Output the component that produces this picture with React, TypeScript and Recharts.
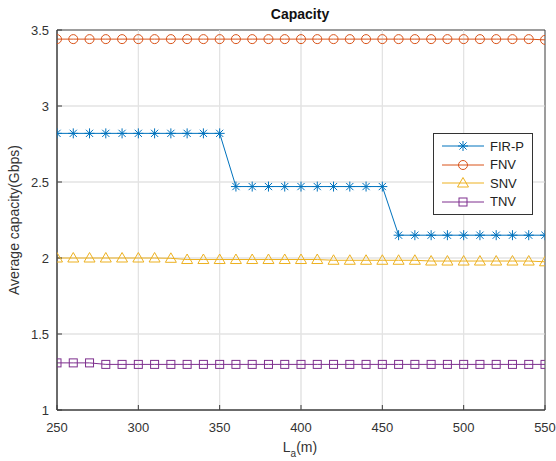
import { LineChart, Line, XAxis, YAxis, CartesianGrid, Legend, ReferenceArea, ReferenceLine } from 'recharts';

const lengths = [250, 260, 270, 280, 290, 300, 310, 320, 330, 340, 350, 360, 370, 380, 390, 400, 410, 420, 430, 440, 450, 460, 470, 480, 490, 500, 510, 520, 530, 540, 550];
const firP = [2.82, 2.82, 2.82, 2.82, 2.82, 2.82, 2.82, 2.82, 2.82, 2.82, 2.82, 2.47, 2.47, 2.47, 2.47, 2.47, 2.47, 2.47, 2.47, 2.47, 2.47, 2.15, 2.15, 2.15, 2.15, 2.15, 2.15, 2.15, 2.15, 2.15, 2.15];
const fnv = [3.44, 3.44, 3.44, 3.44, 3.44, 3.44, 3.44, 3.44, 3.44, 3.44, 3.44, 3.44, 3.44, 3.44, 3.44, 3.44, 3.44, 3.44, 3.44, 3.44, 3.44, 3.44, 3.44, 3.44, 3.44, 3.44, 3.44, 3.44, 3.44, 3.44, 3.435];
const snv = [2.0, 2.0, 2.0, 2.0, 2.0, 2.0, 2.0, 1.998, 1.99, 1.99, 1.99, 1.99, 1.99, 1.99, 1.99, 1.99, 1.99, 1.985, 1.985, 1.985, 1.985, 1.985, 1.985, 1.98, 1.98, 1.98, 1.98, 1.98, 1.98, 1.98, 1.975];
const tnv = [1.31, 1.31, 1.31, 1.30, 1.30, 1.30, 1.30, 1.30, 1.30, 1.30, 1.30, 1.30, 1.30, 1.30, 1.30, 1.30, 1.30, 1.30, 1.30, 1.30, 1.30, 1.30, 1.30, 1.30, 1.30, 1.30, 1.30, 1.30, 1.30, 1.30, 1.30];
const xTicks = [250, 300, 350, 400, 450, 500, 550];
const yTicks = [1, 1.5, 2, 2.5, 3, 3.5];
const xGrid = [300, 350, 400, 450, 500];
const yGrid = [1.5, 2, 2.5, 3];

const data = lengths.map((x, i) => ({ x, firP: firP[i], fnv: fnv[i], snv: snv[i], tnv: tnv[i] }));

const series = [
    { key: 'firP', name: 'FIR-P', color: '#0072BD', marker: 'star' },
    { key: 'fnv', name: 'FNV', color: '#D95319', marker: 'circle' },
    { key: 'snv', name: 'SNV', color: '#EDB120', marker: 'triangle' },
    { key: 'tnv', name: 'TNV', color: '#7E2F8E', marker: 'square' },
];

const font = '"Liberation Sans", Arial, sans-serif';
const axisColor = '#3a3a3a';
const gridColor = '#e3e3e3';

function Marker({ cx, cy, type, color }: { cx: number; cy: number; type: string; color: string }) {
    if (type === 'star') {
        const r = 5;
        const d = 3.6;
        return (
            <g stroke={color} strokeWidth={1}>
                <line x1={cx - r} y1={cy} x2={cx + r} y2={cy} />
                <line x1={cx} y1={cy - r} x2={cx} y2={cy + r} />
                <line x1={cx - d} y1={cy - d} x2={cx + d} y2={cy + d} />
                <line x1={cx - d} y1={cy + d} x2={cx + d} y2={cy - d} />
            </g>
        );
    }
    if (type === 'circle') return <circle cx={cx} cy={cy} r={4.5} fill="none" stroke={color} strokeWidth={1} />;
    if (type === 'triangle')
        return <polygon points={`${cx},${cy - 5.5} ${cx + 5.5},${cy + 4} ${cx - 5.5},${cy + 4}`} fill="none" stroke={color} strokeWidth={1} />;
    return <rect x={cx - 4} y={cy - 4} width={8} height={8} fill="none" stroke={color} strokeWidth={1} />;
}

// legend drawn as an overlay so it doesn't shrink the plot area
function LegendBox() {
    return (
        <div style={{ position: 'absolute', left: 433, top: 133, border: '1px solid #333', background: '#fff', padding: '3px 8px 3px 6px', fontFamily: font, fontSize: 13, color: '#222' }}>
            {series.map((s) => (
                <div key={s.key} style={{ display: 'flex', alignItems: 'center', height: 18.5 }}>
                    <svg width={46} height={14}>
                        <line x1={2} y1={7} x2={44} y2={7} stroke={s.color} strokeWidth={1} />
                        <Marker cx={23} cy={7} type={s.marker} color={s.color} />
                    </svg>
                    <span style={{ marginLeft: 4 }}>{s.name}</span>
                </div>
            ))}
        </div>
    );
}

const noTick = () => <g />;

export default function App() {
    return (
        <div style={{ position: 'absolute', left: 0, top: 0, width: 556, height: 461, background: '#fff' }}>
            <LineChart width={556} height={461} data={data} margin={{ top: 30, right: 11, bottom: 0, left: 0 }}>
                <text x={300} y={19} textAnchor="middle" fontFamily={font} fontSize={14} fontWeight="bold" fill="#111">Capacity</text>
                <text transform="translate(19,220) rotate(-90)" textAnchor="middle" fontFamily={font} fontSize={14} fill="#333">Average capacity(Gbps)</text>
                <text x={300} y={452} textAnchor="middle" fontFamily={font} fontSize={14} fill="#333">
                    L<tspan dy={5} fontSize={10}>a</tspan><tspan dy={-5}>(m)</tspan>
                </text>
                <CartesianGrid xAxisId="b" yAxisId="l" stroke={gridColor} strokeWidth={1}
                    verticalValues={xGrid} horizontalValues={yGrid} syncWithTicks={false} />
                {xGrid.map((v) => (
                    <ReferenceLine key={`gx${v}`} xAxisId="b" yAxisId="l" x={v} stroke={gridColor} strokeWidth={1} />
                ))}
                {yGrid.map((v) => (
                    <ReferenceLine key={`gy${v}`} xAxisId="b" yAxisId="l" y={v} stroke={gridColor} strokeWidth={1} />
                ))}
                <XAxis xAxisId="b" dataKey="x" type="number" domain={[250, 550]} ticks={xTicks} height={51} stroke={axisColor}
                    axisLine={{ stroke: axisColor }} tickLine={{ stroke: axisColor }} tickSize={-5} tickMargin={18}
                    tick={{ fontFamily: font, fontSize: 13, fill: '#333' }} allowDataOverflow />
                <XAxis xAxisId="t" orientation="top" dataKey="x" type="number" domain={[250, 550]} ticks={xTicks} height={0} stroke={axisColor}
                    axisLine={{ stroke: axisColor }} tickLine={{ stroke: axisColor }} tickSize={-5} tick={noTick} />
                <YAxis yAxisId="l" type="number" domain={[1, 3.5]} ticks={yTicks} width={57} stroke={axisColor}
                    axisLine={{ stroke: axisColor }} tickLine={{ stroke: axisColor }} tickSize={-5} tickMargin={13}
                    tick={{ fontFamily: font, fontSize: 13, fill: '#333' }} allowDataOverflow />
                <YAxis yAxisId="r" orientation="right" type="number" domain={[1, 3.5]} ticks={yTicks} width={0} stroke={axisColor}
                    axisLine={{ stroke: axisColor }} tickLine={{ stroke: axisColor }} tickSize={-5} tick={noTick} />
                <ReferenceArea xAxisId="b" yAxisId="l" x1={250} x2={550} y1={1} y2={3.5} fill="none" stroke={axisColor} strokeWidth={1} ifOverflow="visible" />
                <Legend content={() => null} wrapperStyle={{ position: 'absolute', width: 0, height: 0 }} />
                {series.map((s) => (
                    <Line key={s.key} xAxisId="b" yAxisId="l" dataKey={s.key} name={s.name} stroke={s.color} strokeWidth={1}
                        isAnimationActive={false}
                        dot={(p: any) => <Marker key={`${s.key}-${p.index}`} cx={p.cx} cy={p.cy} type={s.marker} color={s.color} />} />
                ))}
            </LineChart>
            <LegendBox />
        </div>
    );
}
